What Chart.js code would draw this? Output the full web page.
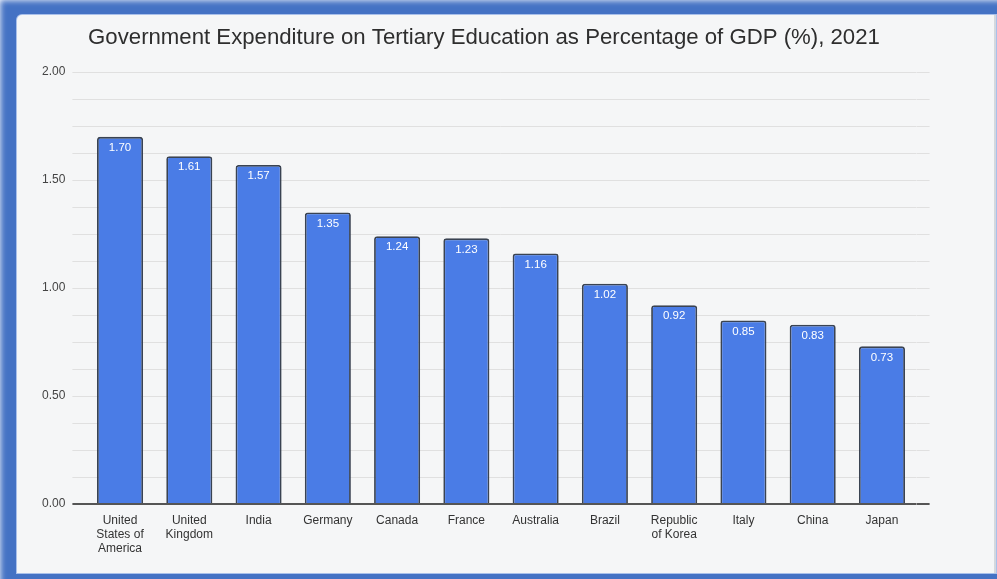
<!DOCTYPE html>
<html>
<head>
<meta charset="utf-8">
<script src="https://cdn.jsdelivr.net/npm/chart.js@4.4.0/dist/chart.umd.min.js"></script>
<style>
  body { margin: 0; width: 997px; height: 579px; overflow: hidden; background: #ffffff; position: relative; }
  .frame { position: absolute; left: 0; top: 0; width: 1010px; height: 600px; background: #4472c4; filter: blur(3px); }
  .panel { position: absolute; left: 17px; top: 15px; width: 977px; height: 558px; background: #f5f6f7; border-top-left-radius: 5px; border-right: 2px solid #d4d8de; box-shadow: 0 0 0 1px #a9c0ea; }
  .wrap { position: absolute; left: 0; top: 0; width: 997px; height: 579px; }
</style>
</head>
<body>
<div class="frame"></div>
<div class="panel"></div>
<div class="wrap"><canvas id="grafico"></canvas></div>
<script>
// dados do gráfico
const paises = [
  ["United", "States of", "America"],
  ["United", "Kingdom"],
  "India",
  "Germany",
  "Canada",
  "France",
  "Australia",
  "Brazil",
  ["Republic", "of Korea"],
  "Italy",
  "China",
  "Japan"
];
const gastos = [1.70, 1.61, 1.57, 1.35, 1.24, 1.23, 1.16, 1.02, 0.92, 0.85, 0.83, 0.73];
const yTicks = [0, 0.5, 1, 1.5, 2];

const titulo = "Government Expenditure on Tertiary Education as Percentage of GDP (%), 2021";
const fonte = "'Liberation Sans', Arial, sans-serif";

// rótulos brancos dentro das barras
const rotulosBarras = {
  id: "rotulosBarras",
  afterDatasetsDraw(chart) {
    const ctx = chart.ctx;
    const meta = chart.getDatasetMeta(0);
    ctx.save();
    ctx.fillStyle = "#ffffff";
    ctx.font = "11.5px " + fonte;
    ctx.textAlign = "center";
    ctx.textBaseline = "middle";
    meta.data.forEach((bar, i) => {
      ctx.fillText(gastos[i].toFixed(2), bar.x, bar.y + 11);
    });
    ctx.restore();
  }
};

function corGrade(c) {
  return c.tick && c.tick.value === 0 ? "#555555" : "#e0e0e0";
}
function larguraGrade(c) {
  return c.tick && c.tick.value === 0 ? 2 : 1;
}

new Chart(document.getElementById("grafico"), {
  type: "bar",
  data: {
    labels: paises,
    datasets: [{
      data: gastos,
      backgroundColor: "#4a7ce6",
      borderColor: "#3a4352",
      borderWidth: 1.8,
      borderRadius: 3,
      borderSkipped: "bottom",
      barPercentage: 0.665,
      categoryPercentage: 1
    }]
  },
  options: {
    responsive: true,
    maintainAspectRatio: false,
    animation: false,
    layout: { padding: { left: 0, right: 29, top: 0, bottom: 0 } },
    plugins: {
      legend: { display: false },
      tooltip: { enabled: false },
      title: {
        display: true,
        text: titulo,
        color: "#2e2e2e",
        font: { family: fonte, size: 22.2, weight: "normal" },
        padding: { top: 24.5, bottom: 20.9 }
      }
    },
    scales: {
      x: {
        grid: { display: false },
        border: { display: false },
        ticks: {
          color: "#333333",
          font: { family: fonte, size: 12, lineHeight: 1.15 },
          padding: 2,
          maxRotation: 0,
          autoSkip: false
        },
        afterFit(scale) { scale.height = 75; }
      },
      y: {
        min: 0,
        max: 2,
        border: { display: false },
        grid: { color: corGrade, lineWidth: larguraGrade, tickLength: 13, tickColor: corGrade },
        ticks: {
          stepSize: 0.125,
          padding: 7,
          color: "#444444",
          font: { family: fonte, size: 12 },
          callback: v => yTicks.includes(v) ? v.toFixed(2) : ""
        },
        afterFit(scale) { scale.width = 85.4; }
      },
      y2: {
        position: "right",
        min: 0,
        max: 2,
        border: { display: false },
        grid: { drawOnChartArea: false, color: corGrade, lineWidth: larguraGrade, tickLength: 13, tickColor: corGrade },
        ticks: { stepSize: 0.125, display: false },
        afterFit(scale) { scale.width = 51.4; }
      }
    }
  },
  plugins: [rotulosBarras]
});
</script>
</body>
</html>
